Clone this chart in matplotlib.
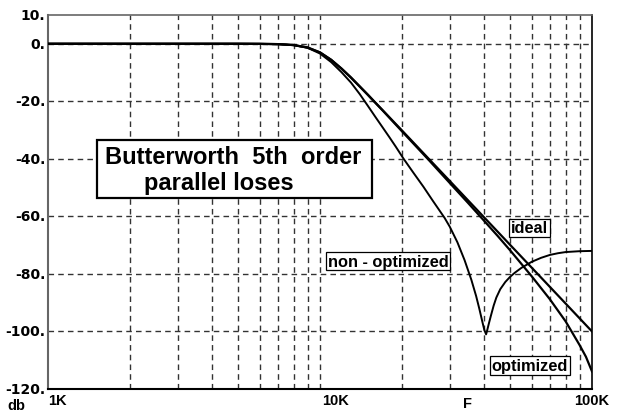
import matplotlib
matplotlib.use("Agg")
import matplotlib.pyplot as plt
from matplotlib.patches import Rectangle

# frequencies in kHz, levels in dB
freq_ideal = [1, 2, 5, 6, 7, 8, 9, 10, 11, 12, 13, 14, 15, 16, 17, 20, 25, 30, 40, 50, 60, 70, 80, 100]
db_ideal = [0, 0, 0, -0.03, -0.12, -0.44, -1.3, -3.0, -5.6, -8.6, -11.7, -14.8, -17.7, -20.5,
            -23.1, -30.1, -39.8, -47.7, -60.2, -69.9, -77.8, -84.5, -90.3, -100]

freq_opt = [1, 2, 5, 6, 7, 8, 9, 10, 11, 12, 13, 14, 15, 16, 17, 20, 25, 30, 35, 40, 45, 50,
            60, 70, 80, 90, 95, 100]
db_opt = [0, 0, 0, -0.03, -0.12, -0.45, -1.3, -3.0, -5.6, -8.7, -11.8, -14.9, -17.8, -20.6,
          -23.2, -30.4, -40.2, -48.4, -55.3, -61.4, -66.8, -71.8, -80.8, -88.8, -96.5, -104.7,
          -108.8, -113.9]

freq_nonopt = [1, 2, 5, 6, 7, 8, 9, 10, 11, 12, 13, 14, 15, 16, 17, 18, 19, 20.3, 22, 24, 26,
               28.7, 30, 32, 34, 36, 37.5, 38.5, 39.5, 40.2, 40.8, 41.2, 41.7, 42.5, 43.5, 44.5,
               46, 48, 50, 52, 55, 60, 65, 70, 75, 80, 90, 100]
db_nonopt = [0, 0, 0, -0.03, -0.15, -0.5, -1.4, -3.4, -6.4, -9.9, -13.5, -17.5, -21.6, -25.5,
             -29.1, -32.5, -35.8, -40, -44.7, -49.7, -54.6, -60.5, -63.6, -69, -75.2, -82,
             -87.7, -92, -96.5, -99.5, -101, -99.5, -97.5, -94.5, -91, -88.2, -85.3, -82.8,
             -81, -79.6, -77.9, -75.8, -74.4, -73.4, -72.8, -72.4, -72.1, -72]

x_grid = [2, 3, 4, 5, 6, 7, 8, 9, 10, 20, 30, 40, 50, 60, 70, 80, 90]
y_grid = [0, -20, -40, -60, -80, -100]
y_ticks = [10, 0, -20, -40, -60, -80, -100, -120]
y_labels = ["10.", "0.", "-20.", "-40.", "-60.", "-80.", "-100.", "-120."]

W, H = 617, 414
fig = plt.figure(figsize=(W / 100, H / 100), dpi=100)
fig.patch.set_facecolor("white")

def fx(px):
    return px / W

def fy(py):
    return 1 - py / H

ax = fig.add_axes([fx(48), fy(390), fx(592) - fx(48), fy(16) - fy(390)])
ax.set_xscale("log")
ax.set_xlim(1, 100)
ax.set_ylim(-120, 10)

grid_style = dict(color="#333333", linewidth=1.0, linestyle=(0, (4, 3)), zorder=1)
for g in x_grid:
    ax.axvline(g, **grid_style)
for g in y_grid:
    ax.axhline(g, **grid_style)

ax.plot(freq_ideal, db_ideal, color="black", linewidth=1.6, zorder=3)
ax.plot(freq_opt, db_opt, color="black", linewidth=1.6, zorder=3)
ax.plot(freq_nonopt, db_nonopt, color="black", linewidth=1.4, zorder=3)

ax.set_xticks([])
ax.set_yticks([])
ax.minorticks_off()
ax.tick_params(which="both", length=0)
for side in ["top", "right", "bottom"]:
    ax.spines[side].set_color("black")
    ax.spines[side].set_linewidth(1.2)
ax.spines["top"].set_color("#666666")
ax.spines["left"].set_color("#666666")
ax.spines["left"].set_linewidth(1.5)
ax.spines["bottom"].set_linewidth(1.5)

ytick_font = dict(family="DejaVu Sans", fontweight="bold", fontsize=10)
for val, lab in zip(y_ticks, y_labels):
    ax.text(-0.005, (val + 120) / 130, lab, transform=ax.transAxes,
            ha="right", va="center", **ytick_font)

xtick_font = dict(family="Liberation Sans", fontweight="bold", fontsize=10.5)
xt = ax.get_xaxis_transform()
ax.text(1.0, -0.012, "1K", ha="left", va="top", transform=xt, **xtick_font)
ax.text(10.2, -0.012, "10K", ha="left", va="top", transform=xt, **xtick_font)
ax.text(100, -0.012, "100K", ha="center", va="top", transform=xt, **xtick_font)
fig.text(fx(468), fy(404), "F", ha="center", va="center", **xtick_font)
fig.text(fx(16), fy(406), "db", ha="center", va="center", **xtick_font)

# title box
fig.patches.append(Rectangle((fx(97), fy(199)), fx(372) - fx(97), fy(141) - fy(199),
                             transform=fig.transFigure, facecolor="white",
                             edgecolor="black", linewidth=1.6, zorder=5))
title_font = dict(family="Liberation Sans", fontweight="bold", fontsize=17, zorder=6)
fig.text(fx(233), fy(157), "Butterworth  5th  order", ha="center", va="center", **title_font)
fig.text(fx(219), fy(184), "parallel loses", ha="center", va="center", **title_font)

label_font = dict(family="Liberation Sans", fontweight="bold", fontsize=11.8, zorder=6)
box = dict(boxstyle="square,pad=0.12", facecolor="white", edgecolor="black", linewidth=0.9)
fig.text(fx(529.5), fy(229), "ideal", ha="center", va="center", bbox=box, **label_font)
fig.text(fx(388), fy(262), "non - optimized", ha="center", va="center", bbox=box, **label_font)
fig.text(fx(530), fy(366.5), "optimized", ha="center", va="center", bbox=box, **label_font)

fig.savefig("out.png", dpi=100)
